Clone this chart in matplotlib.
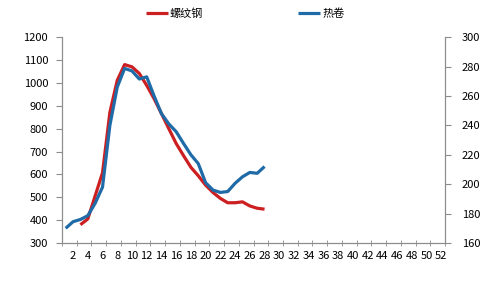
import matplotlib
matplotlib.use('Agg')
import matplotlib.pyplot as plt

plt.rcParams['font.family'] = ['Noto Sans CJK SC', 'DejaVu Sans']

# 周次 1..52
weeks = list(range(1, 53))
x_labels = [str(w) if w % 2 == 0 else '' for w in weeks]

# 螺纹钢 (左轴), 从第3周开始
rebar_weeks = list(range(3, 29))
rebar = [380, 405, 506, 607, 871, 1011, 1080, 1070, 1041, 989, 931, 866, 800,
         735, 682, 631, 594, 553, 521, 495, 476, 476, 480, 462, 452, 448]

# 热卷 (右轴)
hrc_weeks = list(range(1, 29))
hrc = [170, 174.5, 176, 178.6, 187, 198, 240, 266, 278.7, 277, 271.5, 273,
       260, 248, 241, 235.7, 227.7, 220, 214, 201, 196, 194.4, 195, 200.6,
       205, 208, 207.4, 212]

red = '#CC1F22'
blue = '#1F6BA8'
grey = '#8C8C8C'

fig = plt.figure(figsize=(5, 2.9), dpi=100, facecolor='white')
ax = fig.add_axes([0.124, 0.162, 0.766, 0.710])
ax2 = ax.twinx()

l1, = ax.plot(rebar_weeks, rebar, color=red, lw=2.3, solid_capstyle='butt')
l2, = ax2.plot(hrc_weeks, hrc, color=blue, lw=2.3, solid_capstyle='butt')

ax.set_xlim(0.5, 52.5)
ax.set_ylim(300, 1200)
ax2.set_ylim(160, 300)
ax.set_yticks(range(300, 1201, 100))
ax2.set_yticks(range(160, 301, 20))

# 标签在类别中心, 刻度线在类别边界
ax.set_xticks(weeks)
ax.set_xticklabels(x_labels)
ax.tick_params(axis='x', length=0, pad=6)
ax.set_xticks([b + 0.5 for b in range(0, 53, 2)], minor=True)
ax.tick_params(axis='x', which='minor', length=4, direction='inout', color=grey)

for a in (ax, ax2):
    a.tick_params(axis='y', length=4, color=grey, labelsize=8, pad=3)
    a.tick_params(axis='x', labelsize=8)
    for s in a.spines.values():
        s.set_color(grey)
    a.spines['top'].set_visible(False)
ax.tick_params(axis='y', pad=6)
ax2.tick_params(axis='y', pad=8)

fig.legend([l1, l2], ['螺纹钢', '热卷'], loc='center', bbox_to_anchor=(0.49, 0.952),
           ncol=2, frameon=False, fontsize=8, handlelength=2.0,
           handletextpad=0.2, columnspacing=8.5)

fig.savefig('out.png', dpi=100)
